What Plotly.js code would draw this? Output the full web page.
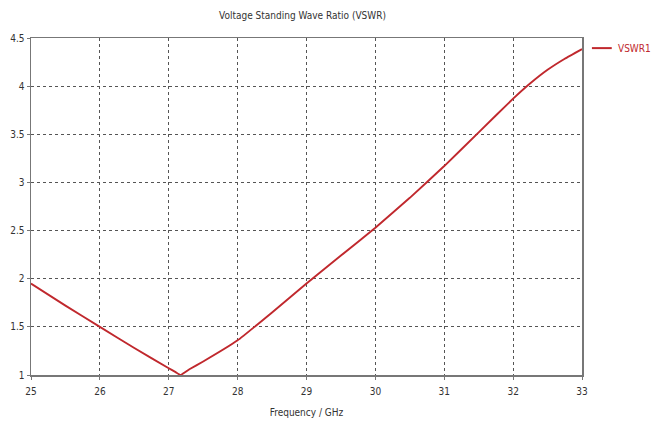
<!DOCTYPE html>
<html>
<head>
<meta charset="utf-8">
<script src="https://cdn.plot.ly/plotly-3.0.1.min.js"></script>
<style>html,body{margin:0;padding:0;background:#fff;}#chart{width:653px;height:422px;}</style>
</head>
<body>
<div id="chart"></div>
<script>
const freqGHz = [25, 25.5, 26, 26.5, 27, 27.1, 27.17, 27.3, 27.5, 28, 28.5, 29, 29.5, 30, 30.5, 31, 31.5, 32, 32.25, 32.5, 32.75, 33];
const vswr1   = [1.95, 1.72, 1.50, 1.28, 1.07, 1.03, 1.00, 1.06, 1.14, 1.36, 1.65, 1.95, 2.24, 2.53, 2.84, 3.17, 3.52, 3.87, 4.03, 4.17, 4.285, 4.385];
const xTicks = [25, 26, 27, 28, 29, 30, 31, 32, 33];
const yTicks = [1, 1.5, 2, 2.5, 3, 3.5, 4, 4.5];
const seriesName = 'VSWR1';
const chartTitle = 'Voltage Standing Wave Ratio (VSWR)';
const xTitle = 'Frequency / GHz';

const fontFam = '"DejaVu Sans Condensed", "Liberation Sans Narrow", Arial, sans-serif';
const lineColor = '#c0282d';

const trace = {
  x: freqGHz, y: vswr1, name: seriesName, type: 'scatter', mode: 'lines',
  line: {color: lineColor, width: 1.9, shape: 'spline', smoothing: 0.3},
  showlegend: false
};

const axisCommon = {
  showline: true, linecolor: '#777', linewidth: 1.5, mirror: true,
  showgrid: true, gridcolor: '#555', griddash: 'dot', gridwidth: 1,
  zeroline: false, ticks: 'outside', ticklen: 3, tickcolor: '#777',
  tickfont: {family: fontFam, size: 10, color: '#333'}
};

const layout = {
  width: 653, height: 422,
  margin: {l: 31, r: 71, t: 38, b: 47, autoexpand: false},
  paper_bgcolor: '#fff', plot_bgcolor: '#fff',
  title: {text: chartTitle, xref: 'paper', x: 0.4927, xanchor: 'center', y: 0.964, yanchor: 'middle',
          font: {family: fontFam, size: 10, color: '#333'}},
  xaxis: Object.assign({}, axisCommon, {
    range: [25, 33], tickvals: xTicks, ticktext: xTicks.map(String), ticklabelstandoff: 3,
    title: {text: xTitle, standoff: 13, font: {family: fontFam, size: 10, color: '#333'}}
  }),
  yaxis: Object.assign({}, axisCommon, {
    range: [1, 4.5], tickvals: yTicks, ticktext: yTicks.map(String)
  }),
  showlegend: false,
  shapes: [{type: 'line', xref: 'paper', yref: 'paper', x0: 1.018, x1: 1.054, y0: 0.97, y1: 0.97,
            line: {color: lineColor, width: 2}}],
  annotations: [{text: seriesName, xref: 'paper', yref: 'paper', x: 1.061, y: 0.97,
                 xanchor: 'left', yanchor: 'middle', showarrow: false,
                 font: {family: fontFam, size: 10, color: lineColor}}]
};

Plotly.newPlot('chart', [trace], layout, {displayModeBar: false, staticPlot: true});
</script>
</body>
</html>
